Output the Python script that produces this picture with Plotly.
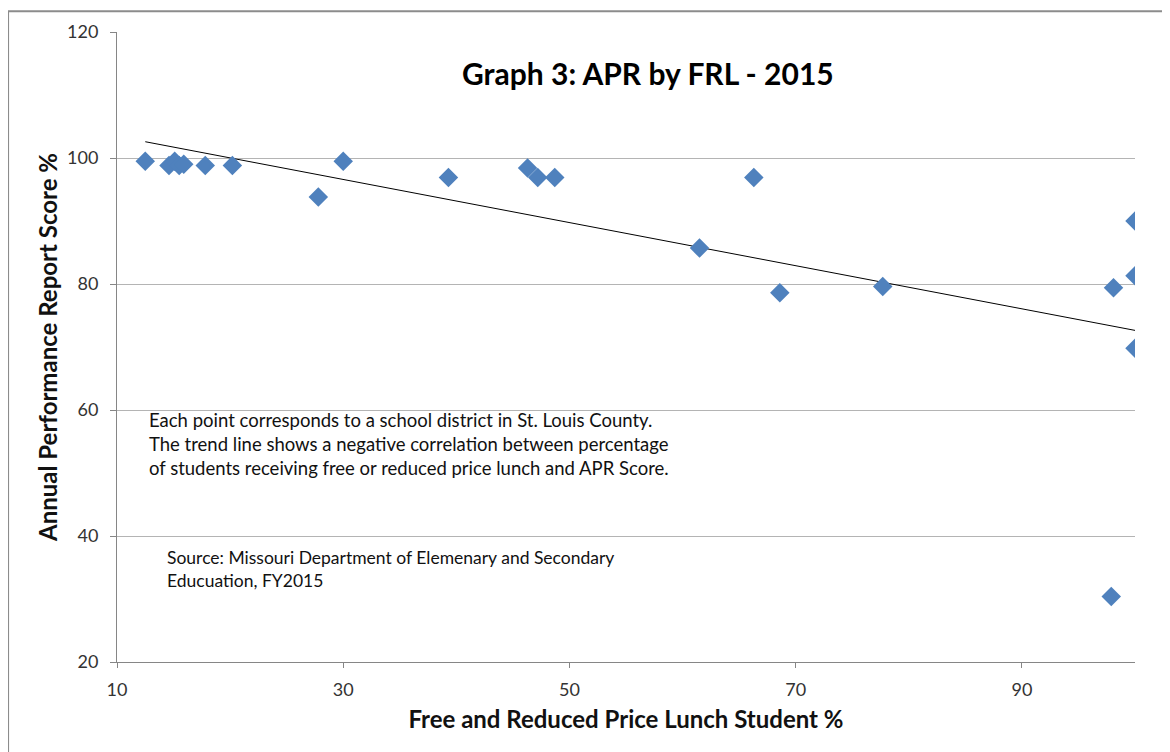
import numpy as np
import plotly.graph_objects as go

# free/reduced lunch % and APR score % per district
frl_pct = [12.5, 14.6, 15.1, 15.5, 15.9, 17.8, 20.2, 27.8, 30.0, 39.3, 46.3, 47.2,
           48.7, 61.5, 66.3, 68.6, 77.7, 98.1, 100.0, 100.0, 100.0, 97.9]
apr_pct = [99.5, 98.8, 99.5, 98.8, 99.0, 98.8, 98.8, 93.8, 99.5, 96.9, 98.4, 96.9,
           96.9, 85.7, 96.9, 78.6, 79.6, 79.4, 90.0, 81.3, 69.8, 30.4]

x_ticks = [10, 30, 50, 70, 90]
y_ticks = [20, 40, 60, 80, 100, 120]

FONT = "Lato"

slope, intercept = np.polyfit(frl_pct, apr_pct, 1)
trend_x = [min(frl_pct), max(frl_pct)]
trend_y = [slope * v + intercept for v in trend_x]

pts = go.Scatter(
    x=frl_pct, y=apr_pct, mode="markers",
    marker=dict(symbol="diamond", size=15, color="#4F81BD", line_width=0),
    hoverinfo="x+y", showlegend=False,
)
trend = go.Scatter(
    x=trend_x, y=trend_y, mode="lines",
    line=dict(color="#000000", width=1), hoverinfo="none", showlegend=False,
)

fig = go.Figure(data=[trend, pts])

note = ("Each point corresponds to a school district in St. Louis County.<br>"
        "The trend line shows a negative correlation between percentage<br>"
        "of students receiving free or reduced price lunch and APR Score.")
source = "Source: Missouri Department of Elemenary and Secondary<br>Educuation, FY2015"

# page body adds an 8px offset, so the figure is 8px smaller than the window
fig.update_layout(
    width=1162, height=744,
    margin=dict(l=109, r=35, t=21, b=90),
    paper_bgcolor="white", plot_bgcolor="white",
    font=dict(family=FONT, size=18, color="#222"),
    xaxis=dict(
        range=[10, 100], tickvals=x_ticks, showgrid=False, zeroline=False,
        showline=True, linecolor="#868686", linewidth=1,
        ticks="outside", ticklen=5, tickcolor="#868686",
        tickfont=dict(size=18, color="#333"), ticklabelstandoff=6,
        title=dict(text="<b>Free and Reduced Price Lunch Student %</b>",
                   font=dict(size=24, color="#111"), standoff=12),
    ),
    yaxis=dict(
        range=[20, 120], tickvals=y_ticks, showgrid=True, gridcolor="#B4B4B4",
        gridwidth=1, zeroline=False,
        showline=True, linecolor="#868686", linewidth=1,
        ticks="outside", ticklen=6, tickcolor="#868686",
        tickfont=dict(size=18, color="#333"), ticklabelstandoff=8,
        title=dict(text="<b>Annual Performance Report Score %</b>",
                   font=dict(size=24, color="#111"), standoff=2),
    ),
    annotations=[
        dict(text="<b>Graph 3: APR by FRL - 2015</b>", xref="paper", yref="paper",
             x=0.522, y=0.935, showarrow=False, font=dict(size=30, color="#000"),
             xanchor="center", yanchor="middle"),
        dict(text=note, xref="paper", yref="paper", x=0.0295, y=0.405, align="left",
             showarrow=False, xanchor="left", yanchor="top",
             font=dict(size=18.5, color="#111")),
        dict(text=source, xref="paper", yref="paper", x=0.047, y=0.186, align="left",
             showarrow=False, xanchor="left", yanchor="top",
             font=dict(size=17.5, color="#111")),
    ],
    shapes=[
        dict(type="rect", xref="paper", yref="paper",
             x0=-0.107, y0=-0.3, x1=1.2, y1=1.033,
             line=dict(color="#8C8C8C", width=2), layer="below"),
    ],
)

fig.write_html("out.html")
